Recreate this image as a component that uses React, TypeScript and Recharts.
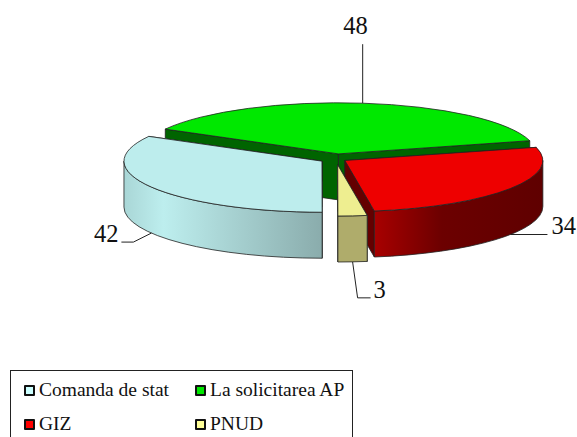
import React from 'react';
import { PieChart, Pie, Legend } from 'recharts';

const CATEGORIES = ['Comanda de stat', 'La solicitarea AP', 'GIZ', 'PNUD'];
const VALUES = [42, 48, 34, 3];
// back slice first so the front slices paint over its cut walls
const DRAW_ORDER = [1, 2, 3, 0];

const TOP_COLORS = ['#bdeded', '#00e800', '#ee0000', '#eeee90'];
const SIDE_COLORS = ['#9cc4c4', '#006400', '#640000', '#afac6b'];
const LEGEND_COLORS = ['#ccffff', '#00e800', '#ff0000', '#ffff99'];

const SQUASH = 0.258; // ellipse height / width of the tilted pie
const DEPTH = 46;
const FONT = '"Liberation Serif", "Times New Roman", serif';
const EXPLODE: Record<string, number> = {
    'Comanda de stat': 16.3,
    'La solicitarea AP': 20,
    GIZ: 10.6,
    PNUD: 23,
};

const data = DRAW_ORDER.map(i => ({
    name: CATEGORIES[i],
    value: VALUES[i],
    fill: TOP_COLORS[i],
    side: SIDE_COLORS[i],
}));

const rad = (deg: number) => (deg * Math.PI) / 180;

// centre of a slice after it is pulled out of the pie
const sliceCentre = (p: any) => {
    const e = EXPLODE[p.name] || 0;
    return {
        x: p.cx + e * Math.cos(rad(p.midAngle)),
        y: p.cy - e * SQUASH * Math.sin(rad(p.midAngle)),
    };
};

const arcPoint = (c: { x: number; y: number }, r: number, deg: number) => ({
    x: c.x + r * Math.cos(rad(deg)),
    y: c.y - r * SQUASH * Math.sin(rad(deg)),
});

// Custom sector: flat top, extruded outer wall and radial cut walls
const Slice3D = (props: any) => {
    const { outerRadius: r, startAngle, endAngle, fill, name, side } = props;
    const c = sliceCentre(props);
    const a = arcPoint(c, r, startAngle);
    const b = arcPoint(c, r, endAngle);
    const ry = r * SQUASH;
    const large = startAngle - endAngle > 180 ? 1 : 0;
    const outline = { stroke: '#222', strokeWidth: 0.8, strokeLinejoin: 'round' as const };

    const radial = (p: { x: number; y: number }) =>
        `M${c.x},${c.y} L${p.x},${p.y} L${p.x},${p.y + DEPTH} L${c.x},${c.y + DEPTH} Z`;

    // front part of the rim only
    const norm = (d: number) => ((d % 360) + 360) % 360;
    let wall = null;
    const mid = norm(props.midAngle);
    const hasFront = norm(startAngle) > 180 || norm(endAngle) > 180 || mid > 180;
    if (hasFront) {
        const from = startAngle > 0 && startAngle < 180 ? 0 : startAngle;
        const to = Math.max(endAngle, from > -90 && from <= 0 ? -180 : from - 90);
        const p = arcPoint(c, r, from);
        const q = arcPoint(c, r, to);
        wall = `M${p.x},${p.y} A${r},${ry} 0 0 1 ${q.x},${q.y} L${q.x},${q.y + DEPTH} A${r},${ry} 0 0 0 ${p.x},${p.y + DEPTH} Z`;
    }
    const id = `wall-${name.replace(/\s/g, '')}`;

    return (
        <g>
            <defs>
                <linearGradient id={id} gradientUnits="objectBoundingBox" x1="0" y1="0" x2="1" y2="0">
                    {name === 'Comanda de stat' && <stop offset="0" stopColor="#a9d6d6" />}
                    {name === 'Comanda de stat' && <stop offset="0.2" stopColor="#bdeeee" />}
                    {name === 'Comanda de stat' && <stop offset="1" stopColor="#8aacac" />}
                    {name === 'GIZ' && <stop offset="0" stopColor="#a80000" />}
                    {name === 'GIZ' && <stop offset="0.4" stopColor="#6c0000" />}
                    {name === 'GIZ' && <stop offset="1" stopColor="#5f0000" />}
                    {name === 'PNUD' && <stop offset="0" stopColor={side} />}
                    {name === 'PNUD' && <stop offset="1" stopColor={side} />}
                </linearGradient>
            </defs>
            <path d={radial(a)} fill={side} {...outline} />
            <path d={radial(b)} fill={side} {...outline} />
            {wall && <path d={wall} fill={`url(#${id})`} {...outline} />}
            <path
                d={`M${c.x},${c.y} L${a.x},${a.y} A${r},${ry} 0 ${large} 1 ${b.x},${b.y} Z`}
                fill={fill}
                {...outline}
            />
        </g>
    );
};

// Leader line and value, anchored on the slice rim at its middle angle
const SliceLabel = (props: any) => {
    const { outerRadius: r, midAngle, value, name } = props;
    const c = sliceCentre(props);
    const p = arcPoint(c, r, midAngle);
    const lineProps = { fill: 'none', stroke: '#222', strokeWidth: 1 };
    const textProps = { fontFamily: FONT, fontSize: 24.5, fill: '#111' };

    if (name === 'La solicitarea AP') {
        return (
            <g>
                <polyline points={`${p.x},${p.y} ${p.x},${p.y - 59}`} {...lineProps} />
                <text x={p.x} y={p.y - 69} textAnchor="end" dx={5} {...textProps}>{value}</text>
            </g>
        );
    }
    const y = p.y + DEPTH;
    if (name === 'GIZ') {
        return (
            <g>
                <polyline points={`${p.x},${y} ${p.x + 37},${y}`} {...lineProps} />
                <text x={p.x + 41} y={y - 1} {...textProps}>{value}</text>
            </g>
        );
    }
    if (name === 'PNUD') {
        return (
            <g>
                <polyline points={`${p.x},${y} ${p.x + 5},${y + 36} ${p.x + 18},${y + 36}`} {...lineProps} />
                <text x={p.x + 21} y={y + 36} {...textProps}>{value}</text>
            </g>
        );
    }
    return (
        <g>
            <polyline points={`${p.x},${y} ${p.x - 18},${y + 9} ${p.x - 30},${y + 9}`} {...lineProps} />
            <text x={p.x - 33} y={y + 9} textAnchor="end" {...textProps}>{value}</text>
        </g>
    );
};

const LegendBox = () => (
    <div
        style={{
            boxSizing: 'border-box',
            width: 343,
            height: 90,
            border: '1px solid #222',
            background: '#fff',
            position: 'relative',
            fontFamily: FONT,
            fontSize: 19.5,
            color: '#111',
        }}
    >
        {CATEGORIES.map((cat, i) => (
            <div
                key={cat}
                style={{
                    position: 'absolute',
                    left: i % 2 === 0 ? 13 : 184,
                    top: i < 2 ? 7 : 41,
                    display: 'flex',
                    alignItems: 'center',
                    lineHeight: '24px',
                    whiteSpace: 'nowrap',
                }}
            >
                <span
                    style={{
                        boxSizing: 'border-box',
                        width: 11,
                        height: 11,
                        marginRight: 4,
                        border: '2px solid #111',
                        borderRadius: 1,
                        background: LEGEND_COLORS[i],
                    }}
                />
                {cat}
            </div>
        ))}
    </div>
);

export default function App() {
    return (
        <div style={{ position: 'absolute', left: 0, top: 0, width: 577, height: 437, overflow: 'hidden', background: '#fff' }}>
            <PieChart width={577} height={437} margin={{ top: 0, right: 0, bottom: 0, left: 0 }}>
                <Pie
                    data={data}
                    dataKey="value"
                    nameKey="name"
                    cx={336}
                    cy={159}
                    innerRadius={0}
                    outerRadius={198}
                    startAngle={151}
                    endAngle={-209}
                    shape={Slice3D}
                    label={SliceLabel}
                    labelLine={false}
                    isAnimationActive={false}
                />
                <Legend
                    content={() => <LegendBox />}
                    wrapperStyle={{ left: 10, top: 370, width: 343, height: 90, bottom: 'auto' }}
                />
            </PieChart>
        </div>
    );
}
